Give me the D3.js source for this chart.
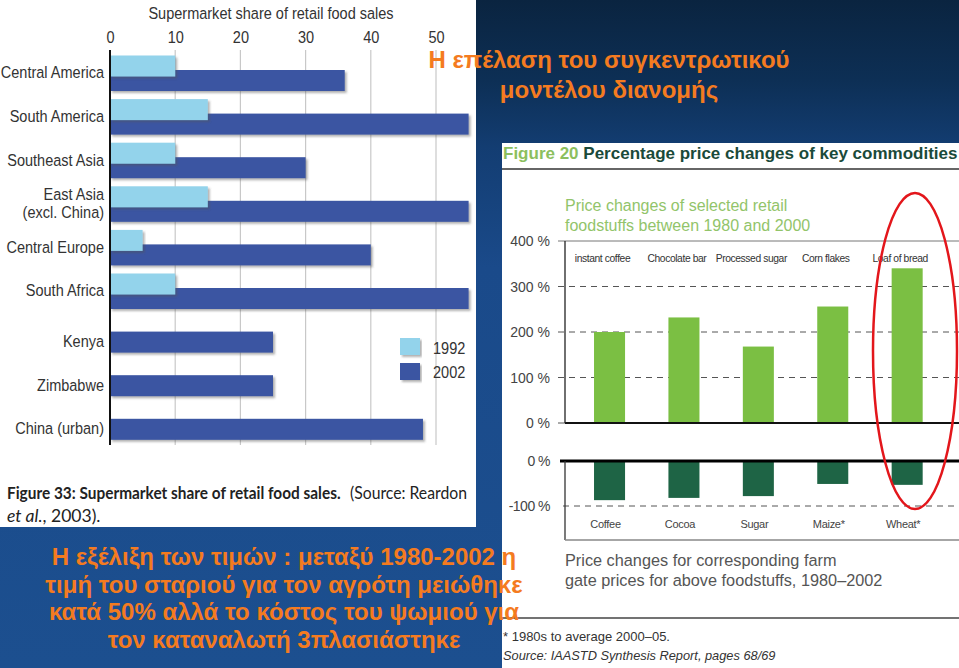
<!DOCTYPE html>
<html><head><meta charset="utf-8">
<script src="https://cdn.jsdelivr.net/npm/d3@7"></script>
<style>
html,body{margin:0;padding:0;background:#1b4f90;}
svg{display:block;}
.cond{transform-box:fill-box;}
</style></head>
<body>
<script>
// ---------- data ----------
const regions = ["Central America","South America","Southeast Asia","East Asia|(excl. China)","Central Europe","South Africa","Kenya","Zimbabwe","China (urban)"];
const share1992 = [10,15,10,15,5,10,null,null,null];
const share2002 = [36,55,30,55,40,55,25,25,48];
const shareTicks = [0,10,20,30,40,50];
const legendYears = ["1992","2002"];

const retailItems = ["instant coffee","Chocolate bar","Processed sugar","Corn flakes","Loaf of bread"];
const retailChange = [200,232,168,256,340];
const retailTicks = [0,100,200,300,400];
const farmItems = ["Coffee","Cocoa","Sugar","Maize*","Wheat*"];
const farmChange = [-87,-82,-78,-51,-53];
const farmTicks = [0,-100];

const W = 959, H = 668;
const svg = d3.select("body").append("svg").attr("width",W).attr("height",H);
const defs = svg.append("defs");

// background gradient
const bg = defs.append("linearGradient").attr("id","bg").attr("x1",0).attr("y1",0).attr("x2",0).attr("y2",1);
[[0,"#0a2440"],[0.12,"#0d2f55"],[0.22,"#133d72"],[0.4,"#1a4a8a"],[1,"#1c4f8f"]].forEach(s=>bg.append("stop").attr("offset",s[0]).attr("stop-color",s[1]));
const sh = defs.append("filter").attr("id","shadow").attr("x","-5%").attr("y","-20%").attr("width","115%").attr("height","160%");
sh.append("feDropShadow").attr("dx",2).attr("dy",2).attr("stdDeviation",1).attr("flood-color","#555").attr("flood-opacity",0.45);

svg.append("rect").attr("width",W).attr("height",H).attr("fill","url(#bg)");

// ---------- left panel ----------
svg.append("rect").attr("x",0).attr("y",0).attr("width",476).attr("height",527).attr("fill","#ffffff");
const L = svg.append("g").style("font-family","'Liberation Sans', Arial, sans-serif");
const x = d3.scaleLinear().domain([0,50]).range([110,436]);
const y = d3.scalePoint().domain(regions).range([80.5, 80.5+8*43.6]);

L.append("text").attr("class","cond").attr("x",271).attr("y",19).attr("text-anchor","middle")
  .attr("font-size",16.5).attr("fill","#333").style("transform","scaleX(0.88)").style("transform-origin","center")
  .text("Supermarket share of retail food sales");

// grid
L.append("g").selectAll("line").data(shareTicks.filter(d=>d>0)).join("line")
  .attr("x1",d=>x(d)).attr("x2",d=>x(d)).attr("y1",50).attr("y2",445)
  .attr("stroke","#c8c8c8").attr("stroke-width",1.2);

// top axis
const xa = L.append("g").attr("transform","translate(0,45)")
  .call(d3.axisTop(x).tickValues(shareTicks).tickSize(0).tickPadding(0));
xa.select(".domain").remove();
xa.selectAll("text").attr("class","cond").attr("font-size",16.5).attr("fill","#333").attr("font-family","'Liberation Sans', Arial, sans-serif")
  .attr("dy","-0.1em").style("transform","scaleX(0.88)").style("transform-origin","center");

// bars 2002
L.append("g").selectAll("rect").data(regions.map((r,i)=>({r,v:share2002[i]}))).join("rect")
  .attr("x",x(0)).attr("y",d=>y(d.r)-10.5).attr("width",d=>x(d.v)-x(0)).attr("height",21)
  .attr("fill","#3a55a2").attr("filter","url(#shadow)");
// bars 1992
L.append("g").selectAll("rect").data(regions.map((r,i)=>({r,v:share1992[i]})).filter(d=>d.v!=null)).join("rect")
  .attr("x",x(0)).attr("y",d=>y(d.r)-25).attr("width",d=>x(d.v)-x(0)).attr("height",21)
  .attr("fill","#93d3eb").attr("filter","url(#shadow)");

// y axis line
L.append("line").attr("x1",x(0)).attr("x2",x(0)).attr("y1",50).attr("y2",445).attr("stroke","#111").attr("stroke-width",2);

// category labels
regions.forEach((r,i)=>{
  const parts = r.split("|");
  const has = share1992[i]!=null;
  const cy = y(r) + (has ? -8 : -1);
  const t = L.append("text").attr("class","cond").attr("x",104).attr("text-anchor","end")
    .attr("font-size",16.5).attr("fill","#333")
    .style("transform","scaleX(0.88)").style("transform-origin","right");
  if(parts.length===1){ t.attr("y",cy+6).text(r); }
  else {
    t.attr("y",cy-3).text(null);
    t.append("tspan").attr("x",104).attr("dy",0).text(parts[0]);
    t.append("tspan").attr("x",104).attr("dy","1.08em").text(parts[1]);
  }
});

// legend
const legColors = ["#93d3eb","#3a55a2"];
legendYears.forEach((yr,i)=>{
  L.append("rect").attr("x",400).attr("y",338+i*25).attr("width",20).attr("height",17)
    .attr("fill",legColors[i]).attr("filter","url(#shadow)");
  L.append("text").attr("class","cond").attr("x",433).attr("y",354+i*24).attr("font-size",16.5).attr("fill","#333")
    .style("transform","scaleX(0.88)").style("transform-origin","left").text(yr);
});

// caption (fitted by horizontal scaling)
const capFont = "Lato, 'Open Sans', sans-serif";
function fitText(x0, y0, width, txt, bold){
  const t = L.append("text").attr("x",0).attr("y",0).attr("font-family",capFont)
    .attr("font-size",17.5).attr("font-weight",bold?"bold":"normal").attr("fill","#222").text(txt);
  const w = t.node().getComputedTextLength();
  t.attr("transform",`translate(${x0},${y0}) scale(${width/w},1)`);
}
fitText(7, 499, 334, "Figure 33: Supermarket share of retail food sales.", true);
fitText(350, 499, 117, "(Source: Reardon", false);
const cap2 = L.append("text").attr("x",7).attr("y",522).attr("font-family",capFont)
  .attr("font-size",17.5).attr("fill","#222");
cap2.append("tspan").attr("font-style","italic").text("et al.");
cap2.append("tspan").text(", 2003).");

// ---------- right panel ----------
svg.append("rect").attr("x",502).attr("y",143).attr("width",W-502).attr("height",H-143).attr("fill","#ffffff");
const R = svg.append("g").style("font-family","'Liberation Sans', Arial, sans-serif");
const hdr = R.append("text").attr("x",503).attr("y",159).attr("font-size",17).attr("font-weight","bold");
hdr.append("tspan").attr("fill","#8cbf5e").text("Figure 20 ");
hdr.append("tspan").attr("fill","#1a4a3a").text("Percentage price changes of key commodities");
R.append("line").attr("x1",502).attr("x2",W).attr("y1",169).attr("y2",169).attr("stroke","#333").attr("stroke-width",1.5);

R.append("text").attr("x",565).attr("y",211).attr("font-size",16).attr("fill","#92c46a").text("Price changes of selected retail");
R.append("text").attr("x",565).attr("y",231).attr("font-size",16).attr("fill","#92c46a").text("foodstuffs between 1980 and 2000");

const xb = d3.scaleBand().domain(d3.range(5)).range([572,944.7]).paddingInner(0.583).paddingOuter(0.296);
const yTop = d3.scaleLinear().domain([0,400]).range([423,241]);
const yBot = d3.scaleLinear().domain([-100,0]).range([506,461]);

// top grid
R.append("g").selectAll("line").data(retailTicks.filter(d=>d>0)).join("line")
  .attr("x1",558).attr("x2",W).attr("y1",d=>yTop(d)).attr("y2",d=>yTop(d))
  .attr("stroke",d=>d===400?"#777":"#555").attr("stroke-width",1)
  .attr("stroke-dasharray",d=>d===400?null:"6,5");
R.append("g").selectAll("text").data(retailTicks).join("text")
  .attr("x",550).attr("y",d=>yTop(d)+5).attr("text-anchor","end").attr("font-size",14).attr("fill","#444")
  .text(d=>d+" %");
R.append("line").attr("x1",558).attr("x2",565).attr("y1",yTop(0)).attr("y2",yTop(0)).attr("stroke","#555");

R.append("g").selectAll("rect").data(retailChange).join("rect")
  .attr("x",(d,i)=>xb(i)).attr("width",xb.bandwidth())
  .attr("y",d=>yTop(d)).attr("height",d=>yTop(0)-yTop(d)).attr("fill","#7bbf43");
R.append("line").attr("x1",565).attr("x2",W).attr("y1",yTop(0)).attr("y2",yTop(0)).attr("stroke","#111").attr("stroke-width",2);
R.append("line").attr("x1",565).attr("x2",565).attr("y1",yTop(400)).attr("y2",yTop(0)).attr("stroke","#222").attr("stroke-width",1.3);
R.append("g").selectAll("text").data(retailItems).join("text")
  .attr("x",(d,i)=>xb(i)+xb.bandwidth()/2-7).attr("y",262).attr("text-anchor","middle")
  .attr("font-size",10.3).attr("letter-spacing",-0.4).attr("fill","#333").text(d=>d);

// bottom chart
R.append("line").attr("x1",563).attr("x2",W).attr("y1",yBot(-100)).attr("y2",yBot(-100))
  .attr("stroke","#555").attr("stroke-dasharray","6,5");
R.append("g").selectAll("text").data(farmTicks).join("text")
  .attr("x",550).attr("y",d=>yBot(d)+5).attr("text-anchor","end").attr("font-size",14).attr("fill","#444")
  .attr("letter-spacing",-0.5).text(d=>d+" %");
R.append("g").selectAll("rect").data(farmChange).join("rect")
  .attr("x",(d,i)=>xb(i)).attr("width",xb.bandwidth())
  .attr("y",yBot(0)).attr("height",d=>yBot(d)-yBot(0)).attr("fill","#1e6445");
R.append("line").attr("x1",560).attr("x2",W).attr("y1",yBot(0)).attr("y2",yBot(0)).attr("stroke","#000").attr("stroke-width",3);
R.append("line").attr("x1",565).attr("x2",565).attr("y1",yBot(0)).attr("y2",540).attr("stroke","#333").attr("stroke-width",1.3);
R.append("line").attr("x1",565).attr("x2",W).attr("y1",540).attr("y2",540).attr("stroke","#888").attr("stroke-width",1.3);
R.append("g").selectAll("text").data(farmItems).join("text")
  .attr("x",(d,i)=>xb(i)+xb.bandwidth()/2-4).attr("y",528).attr("text-anchor","middle")
  .attr("font-size",11).attr("letter-spacing",-0.3).attr("fill","#444").text(d=>d);

R.append("text").attr("x",565).attr("y",566).attr("font-size",16.3).attr("fill","#555").text("Price changes for corresponding farm");
R.append("text").attr("x",565).attr("y",586).attr("font-size",16.3).attr("fill","#555").text("gate prices for above foodstuffs, 1980–2002");
R.append("line").attr("x1",502).attr("x2",W).attr("y1",618).attr("y2",618).attr("stroke","#444").attr("stroke-width",1.3);
R.append("text").attr("x",503).attr("y",641).attr("font-size",13).attr("fill","#333").text("* 1980s to average 2000–05.");
R.append("text").attr("x",503).attr("y",660).attr("font-size",12.8).attr("font-style","italic").attr("fill","#333").text("Source: IAASTD Synthesis Report, pages 68/69");

// red ellipse
R.append("ellipse").attr("cx",915).attr("cy",351).attr("rx",42).attr("ry",158)
  .attr("fill","none").attr("stroke","#e3161b").attr("stroke-width",2.5);

// ---------- slide texts ----------
const T = svg.append("g").style("font-family","'Liberation Sans', Arial, sans-serif").attr("font-weight","bold").attr("fill","#f47b20");
T.append("text").attr("x",609).attr("y",68).attr("text-anchor","middle").attr("font-size",24).text("Η επέλαση του συγκεντρωτικού");
T.append("text").attr("x",609).attr("y",98).attr("text-anchor","middle").attr("font-size",24).text("μοντέλου διανομής");
const bottomLines = ["Η εξέλιξη των τιμών : μεταξύ 1980-2002 η","τιμή του σταριού για τον αγρότη μειώθηκε","κατά 50% αλλά το κόστος του ψωμιού για","τον καταναλωτή 3πλασιάστηκε"];
T.append("g").selectAll("text").data(bottomLines).join("text")
  .attr("x",284).attr("y",(d,i)=>565+i*27.7).attr("text-anchor","middle").attr("font-size",24).text(d=>d);
</script>
</body></html>
